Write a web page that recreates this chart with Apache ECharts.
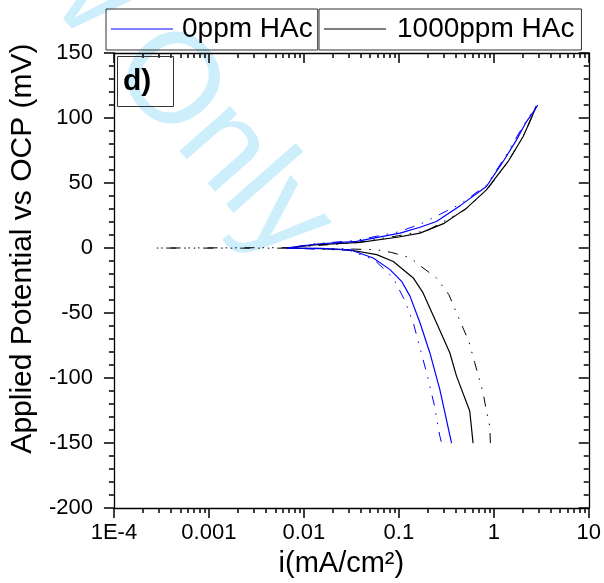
<!DOCTYPE html>
<html>
<head>
<meta charset="utf-8">
<script src="https://cdn.jsdelivr.net/npm/echarts@6/dist/echarts.min.js"></script>
<style>
  html, body { margin: 0; padding: 0; background: #fff; }
  #main { width: 604px; height: 583px; }
</style>
</head>
<body>
<div id="main"></div>
<script>
// current density (mA/cm2) vs applied potential (mV), scan from -150 mV up to +110 mV
var blank1 = [
  [0.359, -150], [0.27, -108.7], [0.212, -80.5], [0.167, -57.5], [0.131, -37], [0.107, -25.6],
  [0.0808, -16.6], [0.0537, -7.7], [0.0307, -1.3], [0.015, -0.3], [0.0066, 0],
  [0.0137, 3.1], [0.036, 5.1], [0.103, 11.5], [0.167, 16], [0.249, 20.4], [0.45, 33],
  [0.836, 47.3], [1.25, 66.4], [1.73, 83], [2.2, 97.1], [2.69, 106], [2.9, 110]
];
var blank2 = [
  [0.28, -149], [0.27, -144.5], [0.235, -120], [0.196, -95.9], [0.142, -57.5], [0.115, -40],
  [0.0874, -23], [0.055, -9], [0.03, -1.8], [0.0066, 0],
  [0.013, 3.3], [0.035, 5.8], [0.1, 12.5], [0.17, 18.5], [0.45, 34], [0.84, 48.5],
  [1.25, 67.5], [2.2, 98], [2.8, 109]
];
var hac1 = [
  [0.605, -150], [0.558, -125.3], [0.405, -98.5], [0.344, -80.5], [0.249, -57.5], [0.18, -34.5],
  [0.142, -23], [0.0874, -10.3], [0.0585, -5.1], [0.0307, -1.5], [0.015, -0.4], [0.0066, 0],
  [0.013, 2.5], [0.039, 4.3], [0.1, 8.5], [0.167, 11.5], [0.3, 19], [0.517, 30.7],
  [0.836, 44.7], [1.41, 66.4], [2.03, 85.6], [2.48, 99.7], [2.8, 109]
];
var hac2 = [
  [0.921, -150], [0.906, -136.8], [0.836, -125.3], [0.771, -111.2], [0.63, -88.2], [0.545, -71.6],
  [0.457, -58.8], [0.405, -49.9], [0.336, -35.8], [0.249, -23], [0.18, -15.3], [0.131, -7.4],
  [0.084, -3.4], [0.0585, -1.3], [0.02, -0.4], [0.0066, -0.1], [0.00027, 0], [0.0066, 0.3],
  [0.035, 4], [0.1, 9.5], [0.2, 13.5], [0.5, 29.5], [0.85, 45], [1.4, 66], [2.05, 86], [2.75, 108]
];

var xTickValues = [0.0001, 0.001, 0.01, 0.1, 1, 10];
var xTickLabels = ['1E-4', '0.001', '0.01', '0.1', '1', '10'];
var xMinorTicks = [];
for (var k = -4; k <= 0; k++) {
  for (var m = 2; m <= 9; m++) {
    xMinorTicks.push(Number((m * Math.pow(10, k)).toPrecision(3)));
  }
}

var font = '"Liberation Sans", Arial, Helvetica, sans-serif';
var blue = '#0000ff';
var dashDotDot = [10, 8, 1.5, 8, 1.5, 8];
var tickStyle = { color: '#000', width: 1.5 };

// tick-only log axes (major/minor, bottom/top), first one also carries line + labels
function logAxis(pos, values, len, inside, extra) {
  var ax = {
    type: 'log',
    logBase: 10,
    min: 0.0001,
    max: 10,
    position: pos,
    axisLine: { show: false, onZero: false },
    axisTick: { show: true, inside: inside, length: len, customValues: values, lineStyle: tickStyle },
    axisLabel: { show: false },
    splitLine: { show: false }
  };
  return Object.assign(ax, extra || {});
}

var option = {
  animation: false,
  backgroundColor: '#fff',
  textStyle: { fontFamily: font },
  grid: { left: 113, right: 15, top: 53, bottom: 74 },
  title: {
    text: 'd)',
    left: 117,
    top: 56,
    borderColor: '#333',
    borderWidth: 1,
    padding: [11, 22, 10, 6],
    textStyle: { fontSize: 30, fontWeight: 'bold', color: '#000', fontFamily: font }
  },
  legend: [
    {
      data: ['0ppm HAc'],
      left: 106, top: 9,
      borderColor: '#333', borderWidth: 1,
      padding: [6, 5, 7, 5],
      icon: 'rect', itemWidth: 62, itemHeight: 1.2,
      textStyle: { fontSize: 28, color: '#000', fontFamily: font, padding: [0, 0, 0, 4] }
    },
    {
      data: ['1000ppm HAc'],
      left: 319, top: 9,
      borderColor: '#333', borderWidth: 1,
      padding: [6, 7, 7, 5],
      icon: 'rect', itemWidth: 62, itemHeight: 1.2,
      textStyle: { fontSize: 28, color: '#000', fontFamily: font, padding: [0, 0, 0, 6] }
    }
  ],
  graphic: [
    {
      type: 'text',
      x: 308, y: 244,
      rotation: -0.85,
      z: -10,
      silent: true,
      style: {
        text: 'For Review Only',
        fill: '#cdeefb',
        font: '128px ' + font,
        textAlign: 'right',
        textVerticalAlign: 'middle'
      }
    }
  ],
  xAxis: [
    logAxis('bottom', xTickValues, 10, false, {
      name: 'i(mA/cm²)',
      nameLocation: 'middle',
      nameGap: 35,
      nameTextStyle: { fontSize: 29, color: '#000', fontFamily: font, padding: [0, 20, 0, 0] },
      axisLine: { show: true, onZero: false, lineStyle: { color: '#000', width: 1.3 } },
      axisLabel: {
        show: true, customValues: xTickValues, margin: 14,
        fontSize: 22, color: '#000', fontFamily: font,
        formatter: function (v) {
          return xTickLabels[Math.round(Math.log10(v)) + 4];
        }
      }
    }),
    logAxis('bottom', xMinorTicks, 5, false),
    logAxis('top', xTickValues, 10, true, {
      axisLine: { show: true, onZero: false, lineStyle: { color: '#000', width: 1.3 } }
    }),
    logAxis('top', xMinorTicks, 5, true)
  ],
  yAxis: [
    {
      type: 'value',
      min: -200, max: 150, interval: 50,
      position: 'left',
      name: 'Applied Potential vs OCP (mV)',
      nameLocation: 'middle',
      nameGap: 72,
      nameTextStyle: { fontSize: 30, color: '#000', fontFamily: font, padding: [0, 0, 0, 64] },
      axisLine: { show: true, onZero: false, lineStyle: { color: '#000', width: 1.3 } },
      axisTick: { show: true, inside: false, length: 10, lineStyle: tickStyle },
      minorTick: { show: true, splitNumber: 5, length: 5, lineStyle: tickStyle },
      axisLabel: { margin: 21, fontSize: 22, color: '#000', fontFamily: font },
      splitLine: { show: false }
    },
    {
      type: 'value',
      min: -200, max: 150, interval: 50,
      position: 'right',
      axisLine: { show: true, onZero: false, lineStyle: { color: '#000', width: 1.3 } },
      axisTick: { show: true, inside: true, length: 10, lineStyle: tickStyle },
      minorTick: { show: true, splitNumber: 5, length: 5, lineStyle: tickStyle },
      axisLabel: { show: false },
      splitLine: { show: false }
    }
  ],
  series: [
    {
      name: '0ppm HAc (2)', type: 'line', data: blank2, symbol: 'none', z: 3,
      itemStyle: { color: blue },
      lineStyle: { color: blue, width: 1, type: dashDotDot }
    },
    {
      name: '1000ppm HAc (2)', type: 'line', data: hac2, symbol: 'none', z: 3,
      itemStyle: { color: '#000' },
      lineStyle: { color: '#000', width: 1, type: dashDotDot }
    },
    {
      name: '1000ppm HAc', type: 'line', data: hac1, symbol: 'none', z: 4,
      itemStyle: { color: '#000' },
      lineStyle: { color: '#000', width: 1.2 }
    },
    {
      name: '0ppm HAc', type: 'line', data: blank1, symbol: 'none', z: 5,
      itemStyle: { color: blue },
      lineStyle: { color: blue, width: 1.2 }
    }
  ]
};

var myChart = echarts.init(document.getElementById('main'), null, { renderer: 'canvas' });
myChart.setOption(option);
</script>
</body>
</html>
